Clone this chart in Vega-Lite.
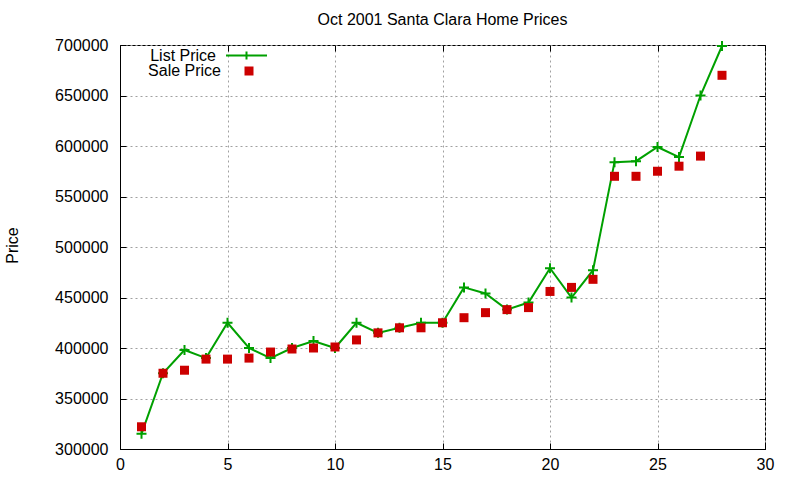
{
  "$schema": "https://vega.github.io/schema/vega-lite/v6.json",
  "autosize": {"type": "none"},
  "width": 645,
  "height": 404,
  "padding": {"left": 120, "top": 45, "right": 35, "bottom": 31},
  "background": "white",
  "title": {
    "text": "Oct 2001 Santa Clara Home Prices",
    "font": "Liberation Sans",
    "fontSize": 16,
    "fontWeight": "normal",
    "color": "black",
    "anchor": "middle",
    "offset": 6
  },
  "config": {
    "font": "Liberation Sans",
    "view": {"stroke": "black", "strokeWidth": 1},
    "axis": {
      "labelFont": "Liberation Sans",
      "labelFontSize": 16,
      "labelColor": "black",
      "titleFont": "Liberation Sans",
      "titleFontSize": 16,
      "titleFontWeight": "normal",
      "titleColor": "black",
      "domainColor": "black",
      "tickColor": "black",
      "gridColor": "#a0a0a0",
      "gridDash": [2, 3],
      "gridWidth": 1,
      "tickSize": -6
    },
    "legend": {
      "labelFont": "Liberation Sans",
      "labelFontSize": 16,
      "labelColor": "black",
      "padding": 0
    }
  },
  "data": {
    "values": [
      {"n": 1, "series": "List Price", "price": 315000},
      {"n": 2, "series": "List Price", "price": 375000},
      {"n": 3, "series": "List Price", "price": 398000},
      {"n": 4, "series": "List Price", "price": 390000},
      {"n": 5, "series": "List Price", "price": 425000},
      {"n": 6, "series": "List Price", "price": 400000},
      {"n": 7, "series": "List Price", "price": 390000},
      {"n": 8, "series": "List Price", "price": 400000},
      {"n": 9, "series": "List Price", "price": 407000},
      {"n": 10, "series": "List Price", "price": 400000},
      {"n": 11, "series": "List Price", "price": 425000},
      {"n": 12, "series": "List Price", "price": 415000},
      {"n": 13, "series": "List Price", "price": 420000},
      {"n": 14, "series": "List Price", "price": 425000},
      {"n": 15, "series": "List Price", "price": 425000},
      {"n": 16, "series": "List Price", "price": 460000},
      {"n": 17, "series": "List Price", "price": 454000},
      {"n": 18, "series": "List Price", "price": 438000},
      {"n": 19, "series": "List Price", "price": 445000},
      {"n": 20, "series": "List Price", "price": 479000},
      {"n": 21, "series": "List Price", "price": 450000},
      {"n": 22, "series": "List Price", "price": 477000},
      {"n": 23, "series": "List Price", "price": 584000},
      {"n": 24, "series": "List Price", "price": 585000},
      {"n": 25, "series": "List Price", "price": 599000},
      {"n": 26, "series": "List Price", "price": 589000},
      {"n": 27, "series": "List Price", "price": 650000},
      {"n": 28, "series": "List Price", "price": 699000},
      {"n": 1, "series": "Sale Price", "price": 322000},
      {"n": 2, "series": "Sale Price", "price": 375000},
      {"n": 3, "series": "Sale Price", "price": 378000},
      {"n": 4, "series": "Sale Price", "price": 389000},
      {"n": 5, "series": "Sale Price", "price": 389000},
      {"n": 6, "series": "Sale Price", "price": 390000},
      {"n": 7, "series": "Sale Price", "price": 396000},
      {"n": 8, "series": "Sale Price", "price": 399000},
      {"n": 9, "series": "Sale Price", "price": 400000},
      {"n": 10, "series": "Sale Price", "price": 401000},
      {"n": 11, "series": "Sale Price", "price": 408000},
      {"n": 12, "series": "Sale Price", "price": 415000},
      {"n": 13, "series": "Sale Price", "price": 420000},
      {"n": 14, "series": "Sale Price", "price": 420000},
      {"n": 15, "series": "Sale Price", "price": 425000},
      {"n": 16, "series": "Sale Price", "price": 430000},
      {"n": 17, "series": "Sale Price", "price": 435000},
      {"n": 18, "series": "Sale Price", "price": 438000},
      {"n": 19, "series": "Sale Price", "price": 440000},
      {"n": 20, "series": "Sale Price", "price": 456000},
      {"n": 21, "series": "Sale Price", "price": 460000},
      {"n": 22, "series": "Sale Price", "price": 468000},
      {"n": 23, "series": "Sale Price", "price": 570000},
      {"n": 24, "series": "Sale Price", "price": 570000},
      {"n": 25, "series": "Sale Price", "price": 575000},
      {"n": 26, "series": "Sale Price", "price": 580000},
      {"n": 27, "series": "Sale Price", "price": 590000},
      {"n": 28, "series": "Sale Price", "price": 670000}
    ]
  },
  "resolve": {"axis": {"x": "independent", "y": "independent"}},
  "layer": [
    {
      "transform": [{"filter": "datum.series === 'List Price'"}],
      "mark": {"type": "line", "strokeWidth": 2},
      "encoding": {
        "x": {
          "field": "n", "type": "quantitative",
          "scale": {"domain": [0, 30], "nice": false, "zero": false},
          "axis": {"title": null, "values": [0, 5, 10, 15, 20, 25, 30], "grid": true, "labelPadding": 13, "labelFlush": false}
        },
        "y": {
          "field": "price", "type": "quantitative",
          "scale": {"domain": [300000, 700000], "nice": false, "zero": false},
          "axis": {
            "title": "Price", "values": [300000, 350000, 400000, 450000, 500000, 550000, 600000, 650000, 700000],
            "format": "d", "grid": true, "labelPadding": 18, "labelFlush": false,
            "titleAngle": -90, "titleX": -108, "titleY": 200, "titleAlign": "center", "titleBaseline": "middle"
          }
        },
        "stroke": {
          "field": "series", "type": "nominal",
          "scale": {"domain": ["List Price"], "range": ["#00a000"]},
          "legend": {
            "title": null, "orient": "none", "legendX": 105, "legendY": -11,
            "symbolType": "M-1,0H1M0,-0.2V0.2", "symbolSize": 1681, "symbolStrokeWidth": 2,
            "labelAlign": "right", "labelOffset": -52
          }
        }
      }
    },
    {
      "transform": [{"filter": "datum.series === 'List Price'"}],
      "mark": {"type": "point", "shape": "M-1,0H1M0,-1V1", "size": 100, "strokeWidth": 2, "color": "#00a000", "filled": false, "opacity": 1},
      "encoding": {
        "x": {"field": "n", "type": "quantitative", "axis": null},
        "y": {"field": "price", "type": "quantitative", "axis": null}
      }
    },
    {
      "transform": [{"filter": "datum.series === 'Sale Price'"}],
      "mark": {"type": "point", "shape": "square", "size": 81, "filled": true, "opacity": 1},
      "encoding": {
        "x": {"field": "n", "type": "quantitative", "axis": null},
        "y": {"field": "price", "type": "quantitative", "axis": null},
        "fill": {
          "field": "series", "type": "nominal",
          "scale": {"domain": ["Sale Price"], "range": ["#cc0000"]},
          "legend": {
            "title": null, "orient": "none", "legendX": 121, "legendY": 18,
            "symbolSize": 81, "symbolStrokeWidth": 0,
            "labelAlign": "right", "labelOffset": -36
          }
        }
      }
    },
    {
      "mark": {"type": "point", "opacity": 0},
      "encoding": {
        "x": {"field": "n", "type": "quantitative", "axis": {"orient": "top", "labels": false, "title": null, "grid": false, "domain": false, "values": [0, 5, 10, 15, 20, 25, 30]}},
        "y": {"field": "price", "type": "quantitative", "axis": {"orient": "right", "labels": false, "title": null, "grid": false, "domain": false, "values": [300000, 350000, 400000, 450000, 500000, 550000, 600000, 650000, 700000]}}
      }
    }
  ]
}
